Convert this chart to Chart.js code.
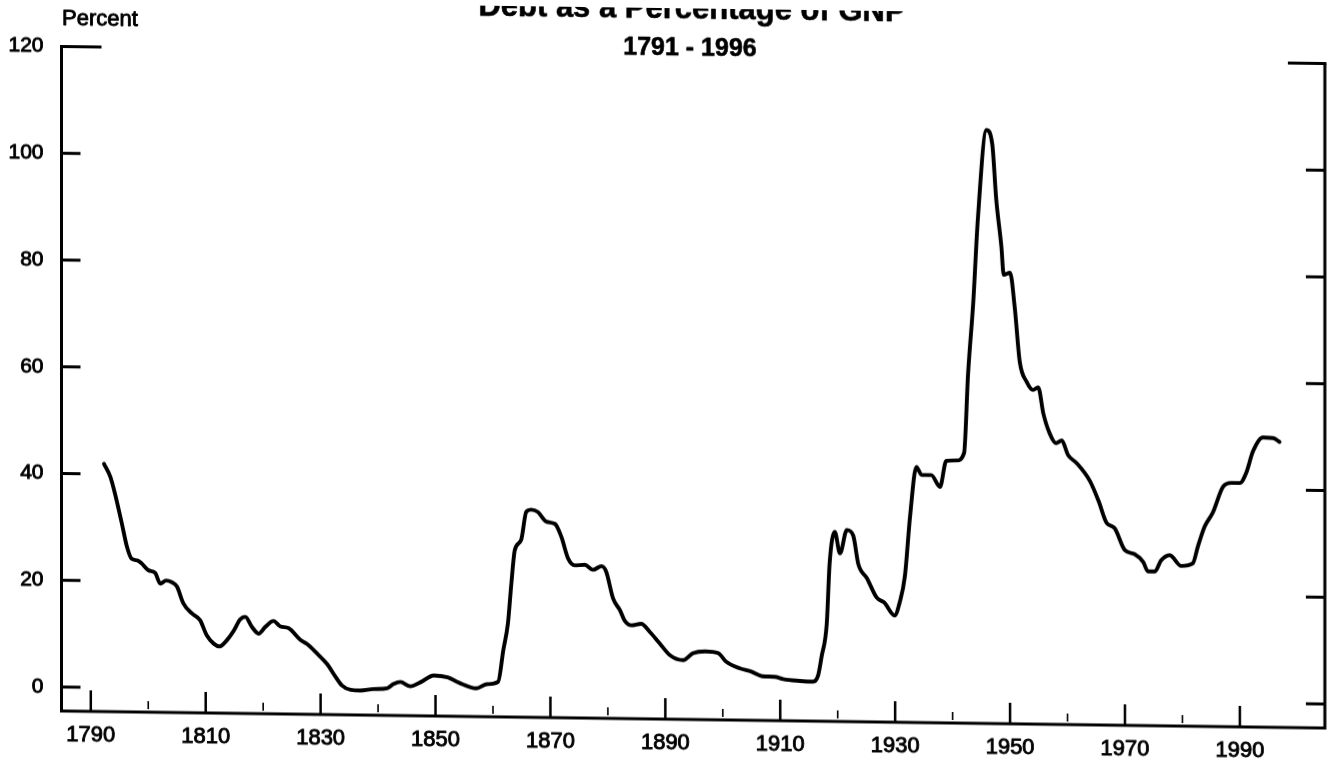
<!DOCTYPE html>
<html>
<head>
<meta charset="utf-8">
<script src="https://cdn.jsdelivr.net/npm/chart.js@4/dist/chart.umd.min.js"></script>
<style>
  html, body { margin: 0; padding: 0; background: #fff; overflow: hidden; }
  #wrap { position: relative; width: 1330px; height: 765px; transform: skewY(0.773deg); transform-origin: 62px 0; }
  canvas { display: block; }
</style>
</head>
<body>
<div id="wrap"><canvas id="chart" width="1330" height="765"></canvas></div>
<script>
// ---- text ----
const TITLE = 'Debt as a Percentage of GNP';
const SUBTITLE = '1791 - 1996';
const Y_UNIT = 'Percent';

// ---- data: year and debt as % of GNP ----
const YEARS = [
  1792.3, 1793.4, 1794.2, 1795.4, 1796.3, 1797.1, 1798.1, 1798.9, 1800.0, 1801.2,
  1802.1, 1803.1, 1804.1, 1805.0, 1806.1, 1807.6, 1809.0, 1810.2, 1811.4, 1812.4,
  1813.7, 1814.9, 1816.0, 1816.9, 1818.0, 1819.2, 1820.4, 1821.8, 1823.0, 1824.4,
  1826.5, 1827.6, 1829.4, 1831.1, 1832.6, 1833.7, 1835.2, 1836.9, 1839.2, 1841.6,
  1842.7, 1843.9, 1845.6, 1847.4, 1849.7, 1852.1, 1854.1, 1857.1, 1858.9, 1860.9,
  1861.8, 1862.6, 1863.2, 1863.8, 1864.9, 1865.8, 1866.7, 1867.8, 1869.3, 1870.8,
  1871.9, 1873.1, 1874.2, 1876.0, 1877.4, 1878.9, 1879.7, 1880.9, 1882.1, 1882.9,
  1884.1, 1885.8, 1887.3, 1889.0, 1890.8, 1893.1, 1894.8, 1896.9, 1899.2, 1900.6,
  1903.0, 1905.0, 1906.8, 1909.1, 1910.5, 1913.4, 1915.7, 1916.6, 1917.2, 1918.1,
  1918.6, 1919.5, 1920.4, 1921.6, 1922.7, 1923.6, 1925.1, 1926.8, 1928.1, 1929.9,
  1930.8, 1931.7, 1932.6, 1933.7, 1934.6, 1936.3, 1937.8, 1938.9, 1940.7, 1942.0,
  1942.7, 1943.6, 1944.4, 1945.9, 1946.9, 1947.6, 1948.5, 1948.9, 1950.0, 1950.8,
  1951.7, 1952.9, 1954.0, 1954.9, 1955.8, 1956.9, 1958.0, 1959.0, 1960.1, 1961.6,
  1963.9, 1965.4, 1966.8, 1968.2, 1970.0, 1971.7, 1973.2, 1974.0, 1975.2, 1976.3,
  1977.8, 1979.8, 1981.8, 1982.7, 1983.9, 1985.3, 1987.1, 1988.5, 1990.0, 1991.1,
  1992.3, 1994.0, 1995.8, 1996.9
];
const DEBT_PCT = [
  41.9, 39.5, 36.4, 30.8, 26.4, 24.2, 23.9, 23.3, 22.1, 21.6,
  19.6, 20.2, 19.9, 19.1, 16.0, 14.1, 12.9, 10.0, 8.5, 8.0,
  9.2, 11.0, 13.1, 13.6, 11.8, 10.5, 11.8, 12.9, 11.9, 11.6,
  9.4, 8.7, 6.9, 5.0, 2.6, 1.0, 0.2, 0.1, 0.4, 0.6,
  1.4, 1.8, 1.0, 1.8, 3.1, 2.8, 1.8, 0.8, 1.6, 2.1,
  8.0, 13.0, 20.5, 26.8, 28.7, 34.0, 34.4, 34.0, 32.2, 31.8,
  29.4, 25.3, 24.1, 24.2, 23.3, 24.0, 23.0, 18.0, 15.8, 13.9,
  13.0, 13.3, 11.8, 9.7, 7.5, 6.6, 7.9, 8.3, 8.0, 6.4,
  5.2, 4.6, 3.8, 3.7, 3.3, 3.0, 2.9, 4.1, 7.6, 13.8,
  25.1, 31.0, 27.0, 31.4, 30.4, 25.0, 22.4, 18.8, 17.9, 15.5,
  18.0, 22.9, 34.1, 43.4, 41.9, 41.9, 39.7, 44.6, 44.7, 46.1,
  61.0, 74.4, 90.0, 106.7, 104.1, 93.7, 84.8, 79.6, 80.0, 73.7,
  63.3, 59.6, 58.1, 58.6, 53.7, 50.0, 48.2, 48.7, 46.0, 44.5,
  41.2, 37.5, 33.4, 32.4, 28.3, 27.6, 26.1, 24.4, 24.4, 26.5,
  27.5, 25.5, 26.0, 29.2, 33.0, 35.6, 40.5, 41.2, 41.2, 43.1,
  47.2, 49.8, 49.7, 49.0
];

// ---- axis ticks ----
const Y_TICKS = [0, 20, 40, 60, 80, 100, 120];
const X_LABEL_YEARS = [1790, 1810, 1830, 1850, 1870, 1890, 1910, 1930, 1950, 1970, 1990];
const X_MINOR_YEARS = [1800, 1820, 1840, 1860, 1880, 1900, 1920, 1940, 1960, 1980];

const FONT = "'Liberation Sans', Arial, Helvetica, sans-serif";

const framePlugin = {
  id: 'frame',
  afterDraw(chart) {
    const { ctx, chartArea: a, scales: { x, y } } = chart;
    const yTop = y.getPixelForValue(Y_TICKS[Y_TICKS.length - 1]);
    ctx.save();
    ctx.strokeStyle = '#000';
    ctx.lineCap = 'butt';
    ctx.lineWidth = 3;
    ctx.beginPath();
    ctx.moveTo(a.left, yTop);
    ctx.lineTo(a.left, a.bottom);
    ctx.lineTo(a.right, a.bottom);
    ctx.lineTo(a.right, yTop);
    ctx.stroke();
    ctx.beginPath();
    ctx.moveTo(a.left - 1.5, yTop); ctx.lineTo(a.left + 40, yTop);
    ctx.moveTo(a.right + 1.5, yTop); ctx.lineTo(a.right - 37, yTop);
    ctx.stroke();
    ctx.beginPath();
    Y_TICKS.slice(0, -1).forEach(v => {
      const py = y.getPixelForValue(v);
      ctx.moveTo(a.left, py); ctx.lineTo(a.left + 19, py);
      ctx.moveTo(a.right, py); ctx.lineTo(a.right - 19, py);
    });
    ctx.stroke();
    ctx.lineWidth = 2.5;
    ctx.beginPath();
    X_LABEL_YEARS.forEach(v => {
      const px = x.getPixelForValue(v);
      ctx.moveTo(px, a.bottom); ctx.lineTo(px, a.bottom - 21);
    });
    ctx.stroke();
    ctx.lineWidth = 1.6;
    ctx.beginPath();
    X_MINOR_YEARS.forEach(v => {
      const px = x.getPixelForValue(v);
      ctx.moveTo(px, a.bottom - 3); ctx.lineTo(px, a.bottom - 11);
    });
    ctx.stroke();
    ctx.restore();
  }
};

const textPlugin = {
  id: 'texts',
  afterDraw(chart) {
    const { ctx, chartArea: a } = chart;
    ctx.save();
    ctx.fillStyle = '#000';
    ctx.strokeStyle = '#000';
    ctx.lineJoin = 'round';
    ctx.textBaseline = 'alphabetic';
    ctx.textAlign = 'center';
    ctx.font = 'bold 31px ' + FONT;
    ctx.lineWidth = 0.6;
    ctx.strokeText(TITLE, 692, 10);
    ctx.fillText(TITLE, 692, 10);
    ctx.font = 'bold 25px ' + FONT;
    ctx.strokeText(SUBTITLE, 690, 46.5);
    ctx.fillText(SUBTITLE, 690, 46.5);
    ctx.textAlign = 'left';
    ctx.font = '22px ' + FONT;
    ctx.lineWidth = 0.9;
    ctx.strokeText(Y_UNIT, a.left + 0.5, 24.5);
    ctx.fillText(Y_UNIT, a.left + 0.5, 24.5);
    ctx.restore();
  }
};

new Chart(document.getElementById('chart'), {
  type: 'line',
  data: {
    datasets: [{
      data: YEARS.map((yr, i) => ({ x: yr, y: DEBT_PCT[i] })),
      borderColor: '#000',
      borderWidth: 3.9,
      cubicInterpolationMode: 'monotone',
      borderCapStyle: 'round',
      borderJoinStyle: 'round',
      pointRadius: 0,
      fill: false
    }]
  },
  options: {
    responsive: false,
    animation: false,
    devicePixelRatio: 1,
    layout: { padding: { top: 46.5, right: 5, left: 0, bottom: 0 } },
    plugins: { legend: { display: false }, tooltip: { enabled: false }, title: { display: false } },
    scales: {
      x: {
        type: 'linear',
        min: 1784.9,
        max: 2004.8,
        grid: { display: false, drawTicks: false },
        border: { display: false },
        afterBuildTicks: s => { s.ticks = X_LABEL_YEARS.map(v => ({ value: v })); },
        afterFit: s => { s.height = 54; },
        ticks: {
          padding: 11, color: '#000', autoSkip: false, maxRotation: 0,
          textStrokeColor: '#000', textStrokeWidth: 0.9,
          font: { family: FONT, size: 22 },
          callback: v => String(v)
        }
      },
      y: {
        type: 'linear',
        min: -4.5,
        max: 120,
        grid: { display: false, drawTicks: false },
        border: { display: false },
        afterBuildTicks: s => { s.ticks = Y_TICKS.map(v => ({ value: v })); },
        afterFit: s => { s.width = 61.5; },
        ticks: {
          padding: 18, color: '#000',
          textStrokeColor: '#000', textStrokeWidth: 0.9,
          font: { family: FONT, size: 21 },
          callback: v => String(v)
        }
      }
    }
  },
  plugins: [framePlugin, textPlugin]
});
</script>
</body>
</html>
